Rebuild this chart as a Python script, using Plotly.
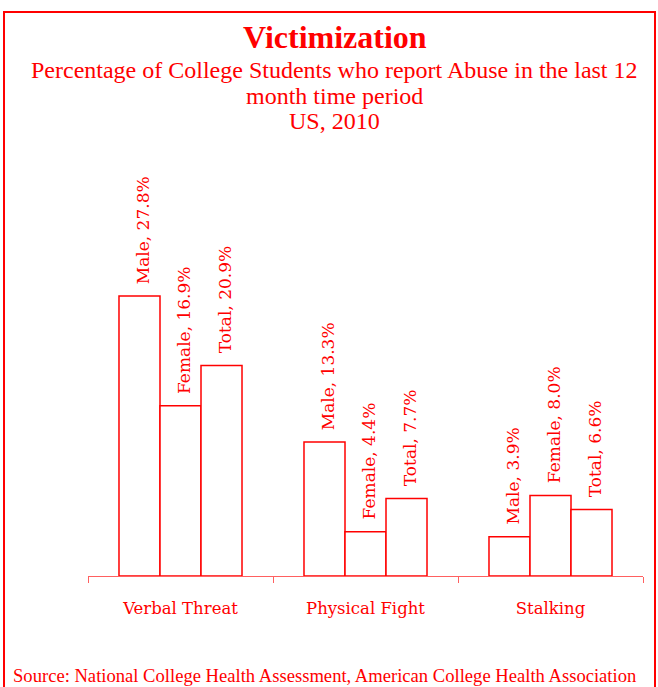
import plotly.graph_objects as go

categories = ["Verbal Threat", "Physical Fight", "Stalking"]
series_names = ["Male", "Female", "Total"]
male = [27.8, 13.3, 3.9]
female = [16.9, 4.4, 8.0]
total = [20.9, 7.7, 6.6]
series_values = [male, female, total]

title = "Victimization"
subtitle_lines = ["Percentage of College Students who report Abuse in the last 12",
                  "month time period", "US, 2010"]
source = "Source: National College Health Assessment, American College Health Association"

RED = "#ff0000"
W, H = 658, 687
ML, MR, MT, MB = 88, 15, 150, 111
BARGAP = 0.335
plot_h = H - MT - MB
px_per_unit = 10.07
ymax = plot_h / px_per_unit

fig = go.Figure()
for name, vals in zip(series_names, series_values):
    fig.add_trace(go.Bar(
        x=categories, y=vals, name=name,
        marker=dict(color="white", line=dict(color=RED, width=1.5)),
        showlegend=False, hoverinfo="skip"))

bw = (1 - BARGAP) / len(series_names)
annotations = []
for j, (name, vals) in enumerate(zip(series_names, series_values)):
    for i, v in enumerate(vals):
        annotations.append(dict(
            x=i + (j - 1) * bw + 0.02, y=v, xref="x", yref="y",
            text=f"{name}, {v:.1f}%", textangle=-90, showarrow=False,
            xanchor="center", yanchor="bottom", yshift=10,
            font=dict(family="DejaVu Serif", size=17, color=RED)))

def py(ypix):
    return (H - MB - ypix) / plot_h

def px(xpix):
    return (xpix - ML) / (W - ML - MR)

annotations.append(dict(x=px(335), y=py(37), xref="paper", yref="paper", text=f"<b>{title}</b>",
                        showarrow=False, xanchor="center", yanchor="middle",
                        font=dict(family="Liberation Serif", size=32, color=RED)))
for k, line in enumerate(subtitle_lines):
    annotations.append(dict(x=px(334), y=py(70 + 25.5 * k), xref="paper", yref="paper", text=line,
                            showarrow=False, xanchor="center", yanchor="middle",
                            font=dict(family="Liberation Serif", size=24, color=RED)))
annotations.append(dict(x=px(11), y=py(675), xref="paper", yref="paper", text=source,
                        showarrow=False, xanchor="left", yanchor="middle",
                        font=dict(family="Liberation Serif", size=18.6, color=RED)))

fig.update_layout(
    width=W, height=H,
    margin=dict(l=ML, r=MR, t=MT, b=MB, pad=0),
    paper_bgcolor="white", plot_bgcolor="white",
    barmode="group", bargap=BARGAP, bargroupgap=0,
    annotations=annotations,
    shapes=[dict(type="rect", xref="paper", yref="paper",
                 x0=px(4), x1=px(655), y0=py(700), y1=py(12),
                 line=dict(color=RED, width=2), fillcolor="rgba(0,0,0,0)", layer="above")],
)
fig.update_xaxes(showline=True, linecolor="#ff6060", linewidth=1, ticks="outside",
                 tickson="boundaries", ticklen=6, tickcolor="#ff6060", showgrid=False,
                 ticklabelstandoff=17,
                 tickfont=dict(family="DejaVu Serif", size=16.5, color=RED))
fig.update_yaxes(range=[0, ymax], visible=False, showgrid=False, zeroline=False)

fig.write_html("out.html", config={"displayModeBar": False},
               post_script="document.body.style.margin='0';document.body.style.overflow='hidden';")
